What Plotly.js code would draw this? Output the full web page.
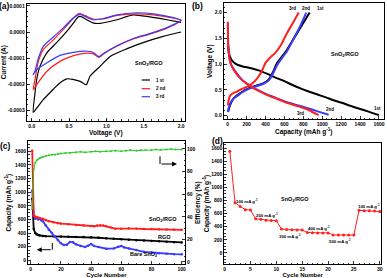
<!DOCTYPE html>
<html><head><meta charset="utf-8">
<script src="https://cdn.plot.ly/plotly-3.0.1.min.js"></script>
<style>html,body{margin:0;padding:0;background:#fff}#chart{width:387px;height:278px}</style>
</head><body><div id="chart"></div>
<script>
// ---------- (a) CV curves: voltage (V) and current (x1e-4 A) ----------
const cvV = [2.0,1.81,1.58,1.36,1.14,0.96,0.9,0.82,0.74,0.56,0.38,0.2,0.066,0.02,0.044,0.09,0.155,0.29,0.42,0.54,0.62,0.65,0.71,0.82,0.96,1.14,1.4,1.63,1.9,2.0];
const cv1V = [2.0,1.76,1.5,1.27,1.05,0.915,0.78,0.73,0.65,0.55,0.47,0.38,0.29,0.155,0.06,0.02,0.044,0.066,0.11,0.2,0.33,0.47,0.56,0.62,0.65,0.69,0.82,0.915,1.14,1.36,1.58,1.81,2.0];
const cv1I = [0.0,-0.17,-0.4,-0.65,-0.94,-1.32,-1.7,-2.03,-1.9,-1.82,-1.8,-1.95,-2.2,-2.6,-2.95,-3.09,-2.35,-1.83,-1.32,-0.81,-0.42,0.02,0.35,0.58,0.6,0.55,0.35,0.33,0.47,0.66,0.58,0.47,0.37];
const cv2I = [0.45,0.15,-0.08,-0.27,-0.55,-0.85,-0.98,-0.83,-0.81,-0.91,-1.13,-1.52,-2.03,-2.22,-1.83,-1.13,-0.68,-0.3,0.09,0.47,0.7,0.72,0.64,0.5,0.5,0.64,0.7,0.66,0.53,0.45];
const cv3I = [0.45,0.17,-0.06,-0.25,-0.53,-0.83,-0.95,-0.78,-0.74,-0.78,-0.9,-1.19,-1.45,-1.64,-1.5,-1.0,-0.55,-0.19,0.15,0.5,0.66,0.68,0.6,0.47,0.52,0.66,0.74,0.7,0.55,0.45];
const cvTickVals = [0.0001,0,-0.0001,-0.0002,-0.0003];
const cvTickText = ['0.0001','0.0000','-0.0001','-0.0002','-0.0003'];
const cvLegend = ['1 st','2 nd','3 rd'];

// ---------- (b) charge/discharge profiles ----------
const dis1C = [5,15,30,46,100,151,250,327,420,504,600,680,770,856,950,1032,1120,1208,1300,1384,1490,1600];
const dis1V = [1.35,1.2,1.12,1.07,0.99,0.96,0.92,0.88,0.81,0.74,0.67,0.6,0.53,0.47,0.41,0.36,0.3,0.25,0.19,0.14,0.08,0.01];
const dis2C = [2,3,5,10,20,40,81,151,250,327,420,504,627,750,856,960,1068];
const dis2V = [1.8,1.6,1.4,1.25,1.1,0.98,0.86,0.7,0.57,0.49,0.41,0.35,0.26,0.2,0.14,0.08,0.02];
const dis3C = [2,3,5,10,20,40,81,151,250,327,420,504,627,750,856,962];
const dis3V = [1.82,1.6,1.4,1.25,1.1,0.97,0.84,0.69,0.56,0.48,0.4,0.34,0.25,0.18,0.11,0.01];
const ch1C = [5,20,50,81,150,222,300,380,433,480,522,575,628,700,780,867];
const ch1V = [0.08,0.18,0.3,0.37,0.46,0.53,0.58,0.63,0.7,0.85,1.02,1.15,1.28,1.5,1.74,2.0];
const ch2C = [3,10,30,60,100,150,222,300,380,433,480,522,575,627,700,770,831];
const ch2V = [0.07,0.14,0.25,0.33,0.38,0.45,0.52,0.57,0.62,0.68,0.82,0.98,1.12,1.25,1.5,1.75,2.0];
const ch3C = [3,10,30,60,100,150,222,280,327,370,398,450,504,560,627,690,751];
const ch3V = [0.2,0.3,0.4,0.44,0.47,0.52,0.58,0.66,0.76,0.9,1.02,1.13,1.22,1.36,1.6,1.8,2.0];

// ---------- (c) cycling ----------
const cRedCyc = [1,2,3,4,5,6,8,10,12,15,18,20,25,30,35,40,42,44,46,48,50,53,56,60,65,70,75,80,85,90,95,100];
const cRed = [1610,660,640,630,625,620,610,590,575,560,545,540,530,520,510,505,500,510,515,510,500,480,465,465,470,465,460,458,455,452,450,448];
const cBlackCyc = [1,2,3,4,5,6,8,10,15,20,25,30,35,40,45,50,55,60,65,70,75,80,85,90,95,100];
const cBlack = [905,460,400,380,370,365,358,355,352,350,347,344,341,338,331,323,316,309,302,296,290,285,279,273,267,262];
const cBlueCyc = [1,2,3,4,5,6,7,8,10,12,14,16,18,20,22,24,26,28,30,33,36,38,40,42,45,50,55,58,60,62,65,70,75,80,85,90,95,100];
const cBlue = [1020,660,610,620,600,610,590,575,510,450,400,350,300,250,225,230,270,265,235,210,195,215,240,210,195,170,175,200,210,190,175,150,125,115,105,95,90,88];
const cEffCyc = [1,2,3,4,5,6,7,8,10,12,14,16,18,20,23,26,30,33,36,40,43,46,50,53,56,60,63,66,70,73,76,80,83,86,90,93,96,100];
const cEff = [47,82,88,90,91,92,92.5,93,94,94.5,95,95,95.5,96,96.5,96.5,97,97.5,97,97.5,98,97.5,98,98,98.5,98,98.5,99,98.5,99,99,99,99.5,99,99.5,100,99.5,99.5];

// ---------- (d) rate capability ----------
const dCyc = [1,2,3,4,5,6,7,8,9,10,11,12,13,14,15,16,17,18,19,20,21,22,23,24,25,26,27,28,29,30];
const dCap = [1550,765,710,660,655,520,512,500,495,490,365,357,352,350,350,310,306,305,305,305,275,273,272,272,272,650,645,642,640,632];
const rateLabels = ['100 mA g<sup>-1</sup>','200 mA g<sup>-1</sup>','300 mA g<sup>-1</sup>','400 mA g<sup>-1</sup>','500 mA g<sup>-1</sup>','100 mA g<sup>-1</sup>'];

// ---------- helpers / styles ----------
const W = 387, H = 278;
const px = x => x / W, py = y => 1 - y / H;
const FONT = 'Liberation Sans, Arial, sans-serif';
const RED = '#ff1f1f', BLUE = '#3b3bff', BLACK = '#000000', GREEN = '#22cc22';
const tickF = {family: FONT, size: 5, color: '#000', weight: 'bold'};
const titleF = {family: FONT, size: 6.5, color: '#000', weight: 'bold'};
const titleFB = {family: FONT, size: 6, color: '#000', weight: 'bold'};

function ax(extra) {
  return Object.assign({
    showline: true, linecolor: '#000', linewidth: 1, mirror: true,
    ticks: 'inside', ticklen: 3, tickwidth: 0.8, tickcolor: '#000',
    minor: {ticks: 'inside', ticklen: 1.5, tickcolor: '#000'},
    showgrid: false, zeroline: false, tickfont: tickF, automargin: false
  }, extra);
}

const traces = [
  {x: cv1V, y: cv1I.map(v => v * 1e-4), xaxis: 'x', yaxis: 'y', mode: 'lines', line: {color: BLACK, width: 1.2, shape: 'spline', smoothing: 0.6}},
  {x: cvV, y: cv2I.map(v => v * 1e-4), xaxis: 'x', yaxis: 'y', mode: 'lines', line: {color: RED, width: 1.2, shape: 'spline', smoothing: 0.6}},
  {x: cvV, y: cv3I.map(v => v * 1e-4), xaxis: 'x', yaxis: 'y', mode: 'lines', line: {color: BLUE, width: 1.2, shape: 'spline', smoothing: 0.6}},

  {x: dis1C, y: dis1V, xaxis: 'x2', yaxis: 'y2', mode: 'lines', line: {color: BLACK, width: 2, shape: 'spline', smoothing: 0.5}},
  {x: ch1C, y: ch1V, xaxis: 'x2', yaxis: 'y2', mode: 'lines', line: {color: BLACK, width: 2, shape: 'spline', smoothing: 0.5}},
  {x: dis2C, y: dis2V, xaxis: 'x2', yaxis: 'y2', mode: 'lines', line: {color: BLUE, width: 2, shape: 'spline', smoothing: 0.5}},
  {x: ch2C, y: ch2V, xaxis: 'x2', yaxis: 'y2', mode: 'lines', line: {color: BLUE, width: 2, shape: 'spline', smoothing: 0.5}},
  {x: dis3C, y: dis3V, xaxis: 'x2', yaxis: 'y2', mode: 'lines', line: {color: RED, width: 2, shape: 'spline', smoothing: 0.5}},
  {x: ch3C, y: ch3V, xaxis: 'x2', yaxis: 'y2', mode: 'lines', line: {color: RED, width: 2, shape: 'spline', smoothing: 0.5}},

  {x: cEffCyc, y: cEff, xaxis: 'x3', yaxis: 'y4', mode: 'lines+markers', line: {color: GREEN, width: 1}, marker: {color: GREEN, size: 2}},
  {x: cBlackCyc, y: cBlack, xaxis: 'x3', yaxis: 'y3', mode: 'lines+markers', line: {color: BLACK, width: 1.8}, marker: {color: BLACK, size: 2.5}},
  {x: cBlueCyc, y: cBlue, xaxis: 'x3', yaxis: 'y3', mode: 'lines+markers', line: {color: BLUE, width: 1.8}, marker: {color: BLUE, size: 2.5}},
  {x: cRedCyc, y: cRed, xaxis: 'x3', yaxis: 'y3', mode: 'lines+markers', line: {color: RED, width: 1.8}, marker: {color: RED, size: 2.5}},

  {x: dCyc, y: dCap, xaxis: 'x4', yaxis: 'y5', mode: 'lines+markers', line: {color: RED, width: 1}, marker: {color: RED, size: 3}}
];

function txt(t, x, y, size, anchor) {
  return {text: t, x: px(x), y: py(y), xref: 'paper', yref: 'paper', showarrow: false,
    xanchor: anchor || 'center', yanchor: 'middle', font: {family: FONT, size: size, color: '#000', weight: 'bold'}};
}

const annotations = [
  txt('(a)', 4.5, 6, 8.5), txt('(b)', 197, 6, 8.5), txt('(c)', 5, 145.5, 8.5), txt('(d)', 217.5, 140.5, 8.5),
  txt('SnO<sub>2</sub>/RGO', 149, 63, 5.5),
  txt(cvLegend[0], 153.5, 80, 4.5, 'left'), txt(cvLegend[1], 153.5, 88.7, 4.5, 'left'), txt(cvLegend[2], 153.5, 96.7, 4.5, 'left'),
  txt('3rd', 292, 8.3, 4.5), txt('2nd', 305.5, 8.3, 4.5), txt('1st', 320, 8.3, 4.5),
  txt('3rd', 300.5, 113.3, 4.5), txt('2nd', 329.5, 109.3, 4.5), txt('1st', 377, 108.3, 4.5),
  txt('SnO<sub>2</sub>/RGO', 344.5, 54, 5.5),
  txt('SnO<sub>2</sub>/RGO', 163, 219.7, 5.5), txt('RGO', 164, 237, 5.5), txt('Bare SnO<sub>2</sub>', 143.5, 254.7, 5.5),
  txt('SnO<sub>2</sub>/RGO', 294.5, 199, 5.5),
  txt(rateLabels[0], 247, 201.3, 4.3), txt(rateLabels[1], 267, 215.3, 4.3), txt(rateLabels[2], 290, 236.3, 4.3),
  txt(rateLabels[3], 318.5, 228, 4.3), txt(rateLabels[4], 340, 241.3, 4.3), txt(rateLabels[5], 368.5, 206.3, 4.3),
  // arrows in (c)
  {x: px(36.7), y: py(249.7), xref: 'paper', yref: 'paper', ax: 15.6, ay: 0, text: '', showarrow: true, arrowhead: 2, arrowsize: 1, arrowwidth: 1, arrowcolor: '#000'},
  {x: px(177), y: py(164), xref: 'paper', yref: 'paper', ax: -17, ay: 0, text: '', showarrow: true, arrowhead: 2, arrowsize: 1, arrowwidth: 1, arrowcolor: '#000'}
];

const shapes = [
  {type: 'line', xref: 'paper', yref: 'paper', x0: px(141.7), x1: px(150), y0: py(80), y1: py(80), line: {color: BLACK, width: 1.2}},
  {type: 'line', xref: 'paper', yref: 'paper', x0: px(141.7), x1: px(150), y0: py(88.7), y1: py(88.7), line: {color: RED, width: 1.2}},
  {type: 'line', xref: 'paper', yref: 'paper', x0: px(141.7), x1: px(150), y0: py(96.7), y1: py(96.7), line: {color: BLUE, width: 1.2}},
  {type: 'line', xref: 'paper', yref: 'paper', x0: px(52.3), x1: px(52.3), y0: py(243), y1: py(249.7), line: {color: '#000', width: 1}},
  {type: 'line', xref: 'paper', yref: 'paper', x0: px(160), x1: px(160), y0: py(156.3), y1: py(164), line: {color: '#000', width: 1}}
];

const layout = {
  width: W, height: H, margin: {l: 0, r: 0, t: 0, b: 0}, showlegend: false,
  paper_bgcolor: '#fff', plot_bgcolor: '#fff', font: {family: FONT, color: '#000'},
  xaxis: ax({domain: [px(26.7), px(185)], range: [-0.067, 2.052], anchor: 'y',
    tickvals: [0, 0.5, 1, 1.5, 2], ticktext: ['0.0', '0.5', '1.0', '1.5', '2.0'],
    title: {text: 'Voltage (V)', font: titleF, standoff: 1}}),
  yaxis: ax({domain: [py(120.7), py(3.7)], range: [-3.41e-4, 1.088e-4], anchor: 'x',
    tickvals: cvTickVals, ticktext: cvTickText,
    title: {text: 'Current (A)', font: titleF, standoff: 2}}),
  xaxis2: ax({domain: [px(223.7), px(383.7)], range: [-42, 1650], anchor: 'y2', dtick: 200,
    title: {text: 'Capacity (mAh g<sup>-1</sup>)', font: titleF, standoff: 1}}),
  yaxis2: ax({domain: [py(119), py(3.3)], range: [-0.064, 2.18], anchor: 'x2',
    tickvals: [0, 0.5, 1, 1.5, 2], ticktext: ['0.0', '0.5', '1.0', '1.5', '2.0'],
    title: {text: 'Voltage (V)', font: titleF, standoff: 1}}),
  xaxis3: ax({domain: [px(28), px(185)], range: [-1.8, 102.2], anchor: 'y3', dtick: 20,
    title: {text: 'Cycle Number', font: titleFB, standoff: 4}}),
  yaxis3: ax({domain: [py(264), py(141.3)], range: [-54, 1747], anchor: 'x3', dtick: 200, mirror: false,
    title: {text: 'Capacity (mAh g<sup>-1</sup>)', font: titleF, standoff: 2}}),
  yaxis4: ax({overlaying: 'y3', side: 'right', range: [-1.8, 106.8], anchor: 'x3', dtick: 20, mirror: false,
    title: {text: 'Efficiency (%)', font: titleF, standoff: 0}}),
  xaxis4: ax({domain: [px(224.3), px(381)], range: [-0.07, 30.25], anchor: 'y5', dtick: 5,
    title: {text: 'Cycle Number', font: titleFB, standoff: 4}}),
  yaxis5: ax({domain: [py(264), py(143)], range: [-169, 1677], anchor: 'x4', dtick: 200,
    title: {text: 'Capacity (mAh g<sup>-1</sup>)', font: titleF, standoff: 0}}),
  annotations: annotations, shapes: shapes
};

Plotly.newPlot('chart', traces, layout, {staticPlot: true, displayModeBar: false});
</script></body></html>
